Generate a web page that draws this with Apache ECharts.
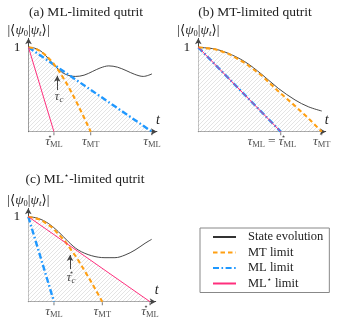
<!DOCTYPE html>
<html><head><meta charset="utf-8">
<script src="https://cdn.jsdelivr.net/npm/echarts@6/dist/echarts.min.js"></script>
<style>html,body{margin:0;padding:0;background:#fff}#c{width:338px;height:318px}</style>
</head><body><div id="c"></div>
<script>
// ---------- data ----------
// Panel (a): ML-limited qutrit  (t in units of tau_ML)
const aStateT = [0, 0.05, 0.1, 0.15, 0.2, 0.25, 0.3, 0.38, 0.45, 0.52, 0.58, 0.65, 0.72, 0.79, 0.86, 0.93, 1.0];
const aStateY = [1, 0.99, 0.955, 0.885, 0.8, 0.73, 0.68, 0.655, 0.67, 0.715, 0.755, 0.78, 0.765, 0.725, 0.68, 0.655, 0.685];
const aMTT = [0, 0.05, 0.1, 0.15, 0.2, 0.25, 0.3, 0.35, 0.4, 0.45, 0.504];
const aMTY = [1, 0.988, 0.952, 0.893, 0.812, 0.712, 0.594, 0.462, 0.319, 0.168, 0];
const aMLT = [0, 1];      const aMLY = [1, 0];
const aMLsT = [0, 0.206]; const aMLsY = [1, 0];
const aTickT = [0.206, 0.504, 1];
const aTickLbl = ['τ*_ML', 'τ_MT', 'τ_ML'];
const aArrowT = 0.233; const aArrowY = [0.494, 0.663];
const aNoteT = 0.247; const aNoteY = 0.418; const aNoteLbl = 'τ_c';

// Panel (b): MT-limited qutrit  (t in units of tau_MT)
const bStateT = [0, 0.135, 0.243, 0.378, 0.514, 0.648, 0.784, 0.891, 1.0];
const bStateY = [1, 0.98, 0.929, 0.829, 0.68, 0.514, 0.376, 0.296, 0.245];
const bMTT = [0, 0.135, 0.243, 0.378, 0.514, 0.648, 0.784, 0.891, 1.0];
const bMTY = [1, 0.978, 0.925, 0.815, 0.665, 0.48, 0.305, 0.16, 0];
const bMLT = [0, 0.668];  const bMLY = [1, 0];
const bMLsT = [0, 0.668]; const bMLsY = [1, 0];
const bTickT = [0.668, 1];
const bTickLbl = ['τ_ML = τ*_ML', 'τ_MT'];

// Panel (c): ML*-limited qutrit  (t in units of tau*_ML)
const cStateT = [0, 0.082, 0.164, 0.247, 0.329, 0.411, 0.521, 0.63, 0.712, 0.795, 0.877, 0.959, 1.014];
const cStateY = [1, 0.981, 0.922, 0.824, 0.706, 0.608, 0.541, 0.518, 0.518, 0.549, 0.608, 0.687, 0.734];
const cMTT = [0, 0.1, 0.2, 0.3, 0.4, 0.5, 0.55, 0.608];
const cMTY = [1, 0.967, 0.869, 0.715, 0.513, 0.275, 0.149, 0];
const cMLT = [0, 0.211];  const cMLY = [1, 0];
const cMLsT = [0, 1];     const cMLsY = [1, 0];
const cTickT = [0.211, 0.608, 1];
const cTickLbl = ['τ_ML', 'τ_MT', 'τ*_ML'];
const cArrowT = 0.343; const cArrowY = [0.385, 0.549];
const cNoteT = 0.351; const cNoteY = 0.29; const cNoteLbl = 'τ*_c';

const titles = ['(a) ML-limited qutrit', '(b) MT-limited qutrit', '(c) ML*-limited qutrit'];
const legendNames = ['State evolution', 'MT limit', 'ML limit', 'ML* limit'];

// ---------- styling ----------
const SERIF = '"Liberation Serif","DejaVu Serif",serif';
const STARF = '"DejaVu Sans",sans-serif';
const TXT = '#222';
const AX = '#444';
const ORANGE = '#ff9f12', BLUE = '#1f98ff', PINK = '#ff2f7d', BLACK = '#333';

const rich = {
  t:  {fontFamily: SERIF, fontStyle: 'italic', fontSize: 13.5, lineHeight: 16, color: TXT},
  n:  {fontFamily: SERIF, fontSize: 13.5, lineHeight: 16, color: TXT},
  s:  {fontFamily: SERIF, fontSize: 8.5, lineHeight: 9, verticalAlign: 'bottom', color: TXT},
  si: {fontFamily: SERIF, fontStyle: 'italic', fontSize: 9, lineHeight: 9, verticalAlign: 'bottom', color: TXT},
  p:  {fontFamily: STARF, fontSize: 8, lineHeight: 8, verticalAlign: 'top', width: 0, color: TXT},
  pw: {fontFamily: STARF, fontSize: 8, lineHeight: 8, verticalAlign: 'top', color: TXT},
  e:  {fontFamily: SERIF, fontSize: 13.5, lineHeight: 16, padding: [0, 3, 0, 3], color: TXT}
};
function toRich(key) {
  return key.split(' = ').map(part => {
    const m = part.match(/^τ(\*?)_(.+)$/);
    const star = m[1] ? '{p|⋆}' : '';
    const sub = m[2] === 'c' ? '{si|c}' : '{s|' + m[2] + '}';
    return '{t|τ}' + star + sub;
  }).join('{e|=}');
}
function textRich(str) { // ML* -> ML with superscript star
  return str.replace('*', '{pw|⋆}');
}

// hatch pattern
const pat = document.createElement('canvas');
pat.width = 4; pat.height = 4;
(function () {
  const g = pat.getContext('2d');
  g.fillStyle = '#fff'; g.fillRect(0, 0, 4, 4);
  g.strokeStyle = '#d9d9d9'; g.lineWidth = 0.7;
  g.beginPath(); g.moveTo(0, 4); g.lineTo(4, 0); g.moveTo(-1, 1); g.lineTo(1, -1); g.moveTo(3, 5); g.lineTo(5, 3); g.stroke();
})();

function pts(ts, ys) { return ts.map((t, i) => [t, ys[i]]); }
function interp(c, x) {
  if (x <= c[0][0]) return c[0][1];
  if (x >= c[c.length - 1][0]) return c[c.length - 1][1];
  for (let i = 1; i < c.length; i++) if (x <= c[i][0]) {
    const [x0, y0] = c[i - 1], [x1, y1] = c[i];
    return y0 + (y1 - y0) * (x - x0) / (x1 - x0);
  }
}
function envelope(curves) {
  let xs = [...new Set(curves.flat().map(p => p[0]))].sort((a, b) => a - b);
  const extra = [];
  for (let k = 1; k < xs.length; k++) {
    const x0 = xs[k - 1], x1 = xs[k];
    for (let i = 0; i < curves.length; i++) for (let j = i + 1; j < curves.length; j++) {
      const d0 = interp(curves[i], x0) - interp(curves[j], x0);
      const d1 = interp(curves[i], x1) - interp(curves[j], x1);
      if (d0 * d1 < 0) extra.push(x0 + (x1 - x0) * d0 / (d0 - d1));
    }
  }
  xs = xs.concat(extra).sort((a, b) => a - b);
  const out = [];
  for (const x of xs) { const y = Math.max(...curves.map(c => interp(c, x))); out.push([x, y]); if (y <= 0) break; }
  return out;
}

function panel(g, state, mt, ml, mls, ticks, tickOffsets, note) {
  const base = {xAxisIndex: g, yAxisIndex: g, symbol: 'none', animation: false};
  const list = [
    Object.assign({type: 'line', name: 'hatch', data: envelope([mt, ml, mls]), lineStyle: {width: 0},
      areaStyle: {color: {image: pat, repeat: 'repeat'}, opacity: 1}, silent: true, z: 1}, base),
    Object.assign({type: 'line', name: 'State evolution', data: state, smooth: 0.35,
      itemStyle: {color: BLACK}, lineStyle: {color: BLACK, width: 0.9}, z: 3}, base),
    Object.assign({type: 'line', name: 'ML limit', data: ml,
      itemStyle: {color: BLUE}, lineStyle: {color: BLUE, width: 2.4, type: [6, 2.5, 1.6, 2.5]}, z: 4}, base),
    Object.assign({type: 'line', name: 'MT limit', data: mt,
      itemStyle: {color: ORANGE}, lineStyle: {color: ORANGE, width: 2.1, type: [4.5, 3]}, z: 5}, base),
    Object.assign({type: 'line', name: 'ML* limit', data: mls,
      itemStyle: {color: PINK}, lineStyle: {color: PINK, width: 1}, z: 6}, base),
    {type: 'scatter', name: 'ticks', xAxisIndex: g, yAxisIndex: g, animation: false, silent: true, z: 7,
      symbol: 'rect', symbolSize: [0.9, 3], symbolOffset: [0, 2], itemStyle: {color: AX},
      data: ticks[0].map((t, i) => ({value: [t, 0], name: ticks[1][i], label: {offset: tickOffsets[i] || [0, 0]}})),
      label: {show: true, position: 'bottom', distance: -2, formatter: p => toRich(p.name), rich: rich}}
  ];
  if (note) {
    list.push({type: 'scatter', name: 'note', xAxisIndex: g, yAxisIndex: g, animation: false, silent: true, z: 7,
      symbolSize: 1, itemStyle: {color: 'rgba(0,0,0,0)'},
      data: [{value: [note.t, note.y], name: note.lbl}],
      label: {show: true, position: 'inside', formatter: p => toRich(p.name), rich: rich},
      markLine: {silent: true, animation: false, symbol: ['none', 'arrow'], symbolSize: [5, 6], precision: 4,
        lineStyle: {color: AX, width: 1, type: 'solid'}, label: {show: false},
        data: [[{coord: [note.at, note.ay[0]]}, {coord: [note.at, note.ay[1]]}]]}});
  }
  return list;
}

const grids = [
  {left: 28.5, top: 38.3, width: 128.4, height: 93.4},
  {left: 198.3, top: 38.3, width: 127.4, height: 93.4},
  {left: 28.3, top: 208.3, width: 127.4, height: 93.4}
].map(g => Object.assign({outerBoundsMode: 'none', containLabel: false}, g));
const xMax = [1.04, 1.032, 1.047];
const yMax = [1.107, 1.107, 1.099];
const yName = '|⟨{ps|ψ}{s|0}|{ps|ψ}{si|t}⟩|';
const axRich = Object.assign({}, rich, {ps: {fontFamily: SERIF, fontStyle: 'italic', fontSize: 13.5, lineHeight: 16, color: TXT}});

const xAxis = xMax.map((m, i) => ({
  type: 'value', gridIndex: i, min: 0, max: m, splitLine: {show: false}, axisTick: {show: false},
  axisLabel: {show: false},
  axisLine: {show: true, onZero: false, symbol: ['none', 'arrow'], symbolSize: [5, 6], lineStyle: {color: AX, width: 1}},
  name: 't', nameLocation: 'end', nameGap: 1,
  nameTextStyle: {fontFamily: SERIF, fontStyle: 'italic', fontSize: 14, color: TXT, align: 'center', verticalAlign: 'bottom', padding: [0, 0, 4, 0]}
}));
const yAxis = yMax.map((m, i) => ({
  type: 'value', gridIndex: i, min: 0, max: m, interval: 1, splitLine: {show: false}, axisTick: {show: false},
  axisLabel: {show: true, margin: 8, formatter: v => (v === 1 ? '1' : ''), fontFamily: SERIF, fontSize: 13.5, color: TXT},
  axisLine: {show: true, onZero: false, symbol: ['none', 'arrow'], symbolSize: [5, 6], lineStyle: {color: AX, width: 1}},
  name: yName, nameLocation: 'end', nameGap: 0,
  nameTextStyle: {align: 'center', verticalAlign: 'bottom', rich: axRich, fontFamily: SERIF, fontSize: 13.5, color: TXT}
}));

const series = [].concat(
  panel(0, pts(aStateT, aStateY), pts(aMTT, aMTY), pts(aMLT, aMLY), pts(aMLsT, aMLsY), [aTickT, aTickLbl], [],
    {t: aNoteT, y: aNoteY, lbl: aNoteLbl, at: aArrowT, ay: aArrowY}),
  panel(1, pts(bStateT, bStateY), pts(bMTT, bMTY), pts(bMLT, bMLY), pts(bMLsT, bMLsY), [bTickT, bTickLbl], [[-9, 0]], null),
  panel(2, pts(cStateT, cStateY), pts(cMTT, cMTY), pts(cMLT, cMLY), pts(cMLsT, cMLsY), [cTickT, cTickLbl], [],
    {t: cNoteT, y: cNoteY, lbl: cNoteLbl, at: cArrowT, ay: cArrowY})
);

const titlePos = [[86, 12], [255, 12], [85, 179]];
const graphic = titles.map((t, i) => ({
  type: 'text', x: titlePos[i][0], y: titlePos[i][1], silent: true,
  style: {text: textRich(t), align: 'center', verticalAlign: 'middle', fontFamily: SERIF, fontSize: 13.5, fill: TXT,
    rich: {pw: {fontFamily: STARF, fontSize: 8, lineHeight: 8, verticalAlign: 'top', fill: TXT}}}
}));

const chart = echarts.init(document.getElementById('c'), null, {renderer: 'canvas'});
chart.setOption({
  animation: false,
  backgroundColor: '#fff',
  grid: grids, xAxis: xAxis, yAxis: yAxis, series: series, graphic: graphic,
  legend: {
    data: legendNames, orient: 'vertical', left: 200, top: 228, padding: [1.5, 6, 1.5, 12], itemGap: 0.5,
    itemWidth: 23, itemHeight: 10, borderColor: '#888', borderWidth: 1, borderRadius: 0, selectedMode: false,
    itemStyle: {opacity: 0},
    formatter: n => textRich(n),
    textStyle: {fontFamily: SERIF, fontSize: 12.5, lineHeight: 15, color: TXT, padding: [0, 0, 0, 7],
      rich: {pw: {fontFamily: STARF, fontSize: 8, lineHeight: 8, verticalAlign: 'top', color: TXT}}}
  }
});
</script></body></html>
